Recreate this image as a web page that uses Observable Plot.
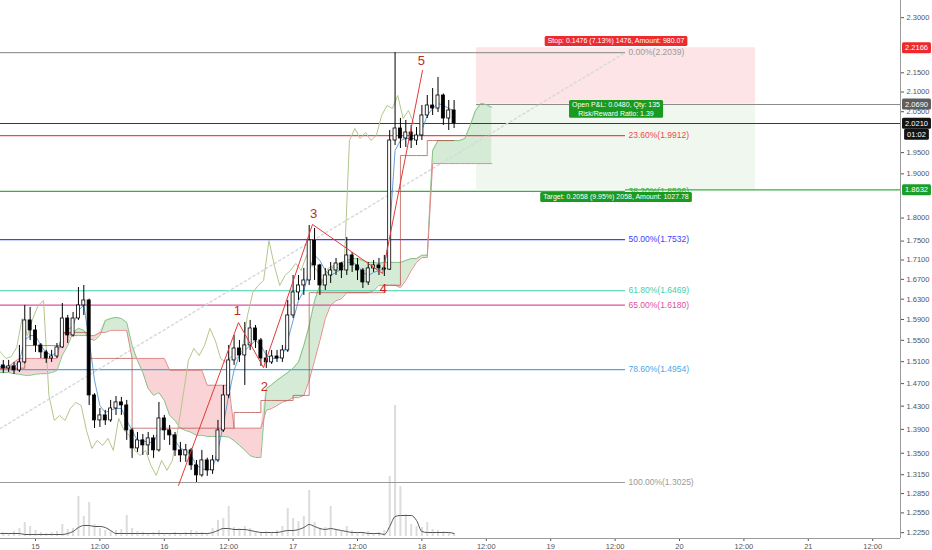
<!DOCTYPE html>
<html><head><meta charset="utf-8">
<script src="https://cdn.jsdelivr.net/npm/d3@7"></script>
<script src="https://cdn.jsdelivr.net/npm/@observablehq/plot@0.6"></script>
<style>
body{margin:0;background:#fff;}
#wrap{position:relative;width:932px;height:550px;overflow:hidden;font-family:"Liberation Sans",Arial,sans-serif;}
#wrap svg{position:absolute;left:0;top:0;}
</style></head><body><div id="wrap"></div>
<script>
// ---------- DATA ----------
const firstCandle = "2018-01-14T17:00Z"; // hourly candles from here
const opens = [1.5100,1.5031,1.4976,1.5013,1.4939,1.5086,1.5881,1.5688,1.5403,1.5272,
1.5159,1.5196,1.5365,1.5919,1.5592,1.5919,1.6175,1.6274,1.4489,1.4053,
1.4139,1.4053,1.4260,1.4366,1.4313,1.3882,1.3580,1.3714,1.3630,1.3747,
1.3547,1.4087,1.3882,1.3798,1.3547,1.3464,1.3547,1.3301,1.3139,1.3382,
1.3220,1.3382,1.3882,1.4489,1.5123,1.5346,1.5215,1.5403,1.5726,1.5497,
1.5159,1.5086,1.5196,1.5159,1.5309,1.5978,1.6434,1.6575,1.6677,1.7513,
1.6986,1.6575,1.6779,1.6882,1.7027,1.6882,1.7195,1.6986,1.6882,1.6636,
1.6924,1.6986,1.6924,1.6900,1.9791,2.0084,1.9840,1.9986,1.9791,1.9913,
2.0406,2.0657,2.0581,2.0911,2.0331,2.0531];
const highs = [1.5160,1.5123,1.5123,1.5086,1.5403,1.6175,1.6135,1.5784,1.5440,1.5309,
1.5309,1.5440,1.6214,1.5978,1.6037,1.6534,1.6575,1.6300,1.4520,1.4260,
1.4226,1.4401,1.4471,1.4454,1.4401,1.3916,1.3848,1.3814,1.3848,1.3798,
1.4366,1.4139,1.3967,1.3848,1.3680,1.3647,1.3580,1.3382,1.3547,1.3420,
1.3464,1.4053,1.4667,1.5403,1.5592,1.5497,1.5842,1.5881,1.5784,1.5535,
1.5309,1.5309,1.5309,1.5403,1.6274,1.6779,1.6779,1.6924,1.7837,1.7772,
1.7010,1.6924,1.7048,1.7132,1.7048,1.7578,1.7258,1.7132,1.6924,1.7048,
1.7090,1.7132,1.7195,2.0035,2.2039,2.0331,2.0281,2.0158,2.0109,2.0657,
2.0911,2.1090,2.1376,2.0950,2.0784,2.0784];
const lows = [1.4902,1.4884,1.4902,1.4866,1.4902,1.5060,1.5497,1.5272,1.5159,1.5068,
1.5086,1.5159,1.5346,1.5440,1.5560,1.5881,1.5978,1.4313,1.3916,1.3933,
1.3967,1.4019,1.4139,1.4139,1.3714,1.3415,1.3514,1.3464,1.3464,1.3415,
1.3520,1.3714,1.3630,1.3448,1.3349,1.3349,1.3220,1.3025,1.3110,1.3123,
1.3155,1.3349,1.3848,1.4436,1.5031,1.5086,1.4667,1.5309,1.5346,1.5013,
1.4976,1.5049,1.5086,1.5086,1.5272,1.5919,1.6274,1.6374,1.6575,1.6677,
1.6374,1.6474,1.6616,1.6779,1.6717,1.6779,1.6841,1.6677,1.6514,1.6575,
1.6841,1.6779,1.6759,1.6882,1.9671,1.9599,1.9623,1.9599,1.9671,1.9791,
2.0331,2.0406,2.0481,2.0158,2.0035,2.0084];
const closes = [1.5031,1.4976,1.5013,1.4939,1.5086,1.5881,1.5688,1.5403,1.5272,1.5159,
1.5196,1.5365,1.5919,1.5592,1.5919,1.6175,1.6274,1.4489,1.4053,1.4139,
1.4053,1.4260,1.4366,1.4313,1.3882,1.3580,1.3714,1.3630,1.3747,1.3547,
1.4087,1.3882,1.3798,1.3547,1.3464,1.3547,1.3301,1.3139,1.3382,1.3220,
1.3382,1.3882,1.4489,1.5123,1.5346,1.5215,1.5403,1.5726,1.5497,1.5159,
1.5086,1.5196,1.5159,1.5309,1.5978,1.6434,1.6575,1.6677,1.7513,1.6986,
1.6575,1.6779,1.6882,1.7027,1.6882,1.7195,1.6986,1.6882,1.6636,1.6924,
1.6986,1.6924,1.6900,1.9791,2.0084,1.9840,1.9986,1.9791,1.9913,2.0406,
2.0657,2.0581,2.0911,2.0331,2.0531,2.0210];
const volumes = [3,4,3,5,8,14,10,6,4,3,
4,5,12,7,8,40,20,34,12,8,
6,5,6,7,21,8,5,4,3,4,
6,3,3,4,3,4,6,5,4,3,
8,16,18,30,9,8,10,8,5,4,
5,4,6,10,28,18,15,20,46,14,
8,9,30,7,5,10,6,4,4,5,
3,4,6,60,131,50,22,12,10,9,
14,7,6,5,4,3];
const volumeMA = [3,3,3,3,3,2,2,2,2,2,
2,2,2,3,5,9,11,11,10,10,
9,6,3,3,3,3,3,3,3,3,
3,3,3,3,3,3,3,3,3,3,
4,6,8,8,7,7,7,6,5,4,
4,4,4,5,6,6,7,9,12,10,
8,7,8,7,6,5,4,4,4,3,
3,3,2,10,20,21,21,21,16,5,
4,4,4,4,4,3];
const tenkan = [1.501,1.501,1.501,1.499,1.512,1.550,1.559,1.559,1.540,1.527,
1.522,1.527,1.559,1.569,1.578,1.608,1.618,1.550,1.476,1.431,
1.419,1.423,1.426,1.426,1.405,1.388,1.371,1.371,1.368,1.368,
1.388,1.392,1.388,1.371,1.358,1.355,1.346,1.330,1.325,1.322,
1.325,1.355,1.397,1.449,1.494,1.522,1.531,1.540,1.550,1.540,
1.522,1.516,1.516,1.520,1.550,1.588,1.627,1.647,1.688,1.720,
1.709,1.688,1.678,1.684,1.692,1.705,1.705,1.699,1.684,1.678,
1.684,1.688,1.692,1.773,1.955,1.979,1.984,1.984,1.984,2.004,
2.041,2.058,2.071,2.066,2.058,2.053];
const kijun = [1.498,1.498,1.498,1.498,1.498,1.540,1.540,1.540,1.540,1.540,
1.540,1.540,1.565,1.565,1.565,1.565,1.565,1.516,1.516,1.516,
1.516,1.516,1.516,1.516,1.516,1.392,1.392,1.392,1.392,1.392,
1.392,1.392,1.392,1.392,1.392,1.392,1.392,1.392,1.392,1.392,
1.392,1.392,1.392,1.392,1.419,1.419,1.419,1.419,1.419,1.440,
1.440,1.440,1.440,1.440,1.440,1.449,1.449,1.449,1.643,1.643,
1.643,1.643,1.643,1.643,1.643,1.643,1.643,1.643,1.643,1.643,
1.643,1.643,1.658,1.658,1.658,1.943,1.943,1.943,1.943,1.943,
1.979,1.979,1.979,1.979,1.979,1.979];
const senkouA = [1.490,1.490,1.490,1.488,1.487,1.485,1.485,1.487,1.488,1.488,
1.490,1.494,1.522,1.540,1.565,1.573,1.569,1.553,1.550,1.559,
1.588,1.592,1.594,1.592,1.584,1.540,1.512,1.490,1.461,1.449,
1.454,1.440,1.414,1.405,1.392,1.388,1.385,1.380,1.380,1.378,
1.378,1.378,1.378,1.377,1.371,1.363,1.355,1.346,1.343,1.343,
1.461,1.468,1.476,1.483,1.490,1.498,1.509,1.540,1.578,1.627,
1.658,1.678,1.692,1.699,1.705,1.709,1.713,1.713,1.709,1.705,
1.705,1.703,1.705,1.705,1.705,1.705,1.709,1.713,1.713,1.720,
1.720,1.955,1.979,1.979,1.979,1.979,1.979,1.984,2.016,2.053,
2.071,2.068,2.061];
const senkouB = [1.498,1.498,1.501,1.509,1.516,1.516,1.516,1.516,1.516,1.516,
1.516,1.516,1.565,1.565,1.559,1.559,1.559,1.559,1.559,1.565,
1.565,1.569,1.569,1.569,1.569,1.516,1.516,1.516,1.516,1.516,
1.516,1.516,1.494,1.494,1.494,1.494,1.494,1.494,1.494,1.467,
1.467,1.467,1.467,1.467,1.392,1.392,1.392,1.392,1.392,1.392,
1.423,1.426,1.431,1.437,1.440,1.445,1.445,1.449,1.476,1.512,
1.550,1.592,1.618,1.627,1.631,1.643,1.643,1.643,1.643,1.643,
1.647,1.658,1.658,1.658,1.658,1.653,1.668,1.688,1.705,1.715,
1.715,1.924,1.924,1.924,1.924,1.924,1.924,1.924,1.924,1.924,
1.924,1.924,1.924];

const fibPct = [0, 23.6, 38.2, 50, 61.8, 65, 78.6, 100];
const fibPrice = [2.2039, 1.9912, 1.8596, 1.7532, 1.6469, 1.6180, 1.4954, 1.3025];
const fibStart = "2018-01-14T00:40Z";
const fibEnd = "2018-01-19T13:56Z";

const waveTimes = ["2018-01-16T02:39Z","2018-01-16T13:49Z","2018-01-16T18:29Z","2018-01-17T03:37Z","2018-01-17T16:40Z","2018-01-18T00:07Z"];
const wavePrices = [1.298, 1.584, 1.499, 1.786, 1.682, 2.156];
const waveLabels = ["1","2","3","4","5"];
const waveLabelTimes = ["2018-01-16T13:36Z","2018-01-16T18:40Z","2018-01-17T03:48Z","2018-01-17T16:50Z","2018-01-17T23:54Z"];
const waveLabelPrices = [1.606, 1.465, 1.810, 1.651, 2.182];

const posStart = "2018-01-18T10:10Z";
const posEnd = "2018-01-20T14:10Z";
const entryPrice = 2.0690, stopPrice = 2.2166, targetPrice = 1.8632, lastPrice = 2.0210;
const stopText = "Stop: 0.1476 (7.13%) 1476, Amount: 980.07";
const pnlText = "Open P&L: 0.0480, Qty: 135\nRisk/Reward Ratio: 1.39";
const targetText = "Target: 0.2058 (9.95%) 2058, Amount: 1027.78";
const countdownText = "01:02";

// price-axis ticks (those hidden under the coloured price labels are left out)
const yTicks = [2.3, 2.15, 2.1, 2.05, 1.95, 1.9, 1.8, 1.75, 1.71, 1.67, 1.63, 1.59, 1.55, 1.51, 1.47, 1.43, 1.39, 1.35, 1.315, 1.285, 1.255, 1.225];
const xTicks = ["2018-01-15T00:00Z","2018-01-15T12:00Z","2018-01-16T00:00Z","2018-01-16T12:00Z","2018-01-17T00:00Z","2018-01-17T12:00Z","2018-01-18T00:00Z","2018-01-18T12:00Z","2018-01-19T00:00Z","2018-01-19T12:00Z","2018-01-20T00:00Z","2018-01-20T12:00Z","2018-01-21T00:00Z","2018-01-21T12:00Z"];

// ---------- BUILD ----------
const HOUR = 3600e3;
const D = s => new Date(s);
const t0 = +D(firstCandle);
const day15 = +D("2018-01-15T00:00Z");
const xDomain = [new Date(day15 - 6.522 * HOUR), new Date(day15 + 161.18 * HOUR)];
const yDomain = [1.2163, 2.3488];

const candles = closes.map((c, i) => ({
  t: new Date(t0 + i * HOUR), o: opens[i], h: highs[i], l: lows[i], c,
  v: volumes[i], ma: volumeMA[i], tk: tenkan[i], kj: kijun[i]
}));
const cloud = senkouA.map((a, i) => ({t: new Date(t0 + i * HOUR), a, b: senkouB[i]}));
const wave = waveTimes.map((t, i) => ({t: D(t), p: wavePrices[i]}));
const waveLab = waveLabels.map((s, i) => ({t: D(waveLabelTimes[i]), p: waveLabelPrices[i], s}));
const fibColors = ["#9a9a9a","#f24848","#35b040","#4040ff","#3fd0aa","#e0509a","#4aa8ea","#9a9a9a"];
const fibs = fibPct.map((p, i) => ({p, price: fibPrice[i], label: `${p.toFixed(2)}%(${fibPrice[i].toFixed(4)})`, color: fibColors[i]}));
const ps = D(posStart), pe = D(posEnd), fs = D(fibStart), fe = D(fibEnd);
const pmid = new Date((+ps + +pe) / 2);
const xEnd = xDomain[1];
const crisp = {shapeRendering: "crispEdges"};

const fibMarks = fibs.map(f =>
  Plot.ruleY([{y: f.price, x1: fs, x2: fe}], {y: "y", x1: "x1", x2: "x2", stroke: f.color, strokeWidth: 1.2, clip: true}));
const fibLabelMarks = fibs.map(f =>
  Plot.text([f], {x: () => fe, y: "price", text: "label", textAnchor: "start", dx: 3, fill: f.color, fontSize: 8.5}));

const axisLabel = (price, text, color, dy = 0) =>
  Plot.text([{p: price, s: text}], {x: () => xEnd, y: "p", text: "s", dx: 16, dy, fill: "white", fontSize: 7.5, textAnchor: "middle", ariaDescription: "bg:" + color});

const main = Plot.plot({
  width: 932, height: 550,
  marginLeft: 0, marginRight: 32, marginTop: 0, marginBottom: 12,
  style: {background: "transparent", fontFamily: "Liberation Sans, Arial, sans-serif", fontSize: "8px", overflow: "visible"},
  x: {type: "utc", domain: xDomain},
  y: {type: "log", domain: yDomain},
  marks: [
    Plot.axisY(yTicks, {anchor: "right", tickFormat: d => d.toFixed(4), tickSize: 3, tickPadding: 3, fontSize: 7.5, color: "#555", label: null}),
    Plot.axisX(xTicks.map(D), {anchor: "bottom", tickFormat: d => d.getUTCHours() === 0 ? String(d.getUTCDate()) : "12:00", tickSize: 3, tickPadding: 2, fontSize: 7.5, color: "#555", label: null}),
    // position box
    Plot.rect([{x1: ps, x2: pe, y1: entryPrice, y2: stopPrice}], {x1: "x1", x2: "x2", y1: "y1", y2: "y2", fill: "#fde4e6"}),
    Plot.rect([{x1: ps, x2: pe, y1: targetPrice, y2: entryPrice}], {x1: "x1", x2: "x2", y1: "y1", y2: "y2", fill: "#eff7ef"}),
    // ichimoku cloud
    Plot.areaY(cloud, {x: "t", y1: "b", y2: d => Math.max(d.a, d.b), fill: "#d5ebd6", clip: true}),
    Plot.areaY(cloud, {x: "t", y1: "a", y2: d => Math.max(d.a, d.b), fill: "#f9d3d5", clip: true}),
    // horizontal lines
    ...fibMarks,
    Plot.ruleY([{y: targetPrice, x1: fe, x2: xEnd}], {y: "y", x1: "x1", x2: "x2", stroke: "#35b040", strokeWidth: 1.2}),
    Plot.ruleY([{y: entryPrice, x1: ps, x2: xEnd}], {y: "y", x1: "x1", x2: "x2", stroke: "#8c8c8c", strokeWidth: 1, ...crisp}),
    Plot.ruleY([lastPrice], {stroke: "#3a3a3a", strokeWidth: 1, ...crisp}),
    Plot.line([{t: fs, p: fibPrice[7]}, {t: fe, p: fibPrice[0]}], {x: "t", y: "p", stroke: "#d9d9d9", strokeDasharray: "2,3", clip: true}),
    // ichimoku lines
    Plot.line(cloud, {x: "t", y: "a", stroke: "#84c285", strokeWidth: 1, clip: true}),
    Plot.line(cloud, {x: "t", y: "b", stroke: "#e28a8a", strokeWidth: 1, clip: true}),
    Plot.line(candles, {x: d => new Date(+d.t - 7.5 * HOUR), y: "c", stroke: "#b3c78c", strokeWidth: 1, clip: true}),
    Plot.line(candles, {x: "t", y: "kj", stroke: "#b5473f", strokeOpacity: 0.7, strokeWidth: 1, curve: "step-after", clip: true}),
    Plot.line(candles, {x: "t", y: "tk", stroke: "#4b8fd6", strokeOpacity: 0.85, strokeWidth: 1, clip: true}),
    // candles
    Plot.ruleX(candles, {x: "t", y1: "l", y2: "h", stroke: "#000", strokeWidth: 1, clip: true}),
    Plot.rect(candles, {x1: d => new Date(+d.t - 17 * 60e3), x2: d => new Date(+d.t + 17 * 60e3), y1: "o", y2: "c",
      fill: d => d.c >= d.o ? "#ffffff" : "#000000", stroke: "#000", strokeWidth: 0.8, clip: true}),
    // Elliott waves
    Plot.line(wave, {x: "t", y: "p", stroke: "#e53935", strokeWidth: 1}),
    Plot.text(waveLab, {x: "t", y: "p", text: "s", fill: "#c62828", fontSize: 13}),
    // labels
    ...fibLabelMarks,
    Plot.text([{p: stopPrice, s: stopText}], {x: () => pmid, y: "p", text: "s", dy: -7, fill: "white", fontSize: 7, ariaDescription: "bg:#ee2a2f"}),
    Plot.text([{p: entryPrice, s: pnlText}], {x: () => pmid, y: "p", text: "s", dy: 4.5, lineHeight: 1.25, fill: "white", fontSize: 7, ariaDescription: "bg:#1a9a1f"}),
    Plot.text([{p: targetPrice, s: targetText}], {x: () => pmid, y: "p", text: "s", dy: 7, fill: "white", fontSize: 7, ariaDescription: "bg:#1a9a1f"}),
    // frame lines
    Plot.ruleX([xEnd], {stroke: "#9a9a9a", ...crisp}),
    Plot.ruleY([yDomain[0]], {stroke: "#9a9a9a", ...crisp}),
    // price-axis labels
    axisLabel(stopPrice, stopPrice.toFixed(4), "#f0282d"),
    axisLabel(entryPrice, entryPrice.toFixed(4), "#5d5d5d"),
    axisLabel(lastPrice, lastPrice.toFixed(4), "#131313"),
    axisLabel(lastPrice, countdownText, "#131313", 11),
    axisLabel(targetPrice, targetPrice.toFixed(4), "#1d9e2c")
  ]
});

const vol = Plot.plot({
  width: 932, height: 550,
  marginLeft: 0, marginRight: 32, marginTop: 380, marginBottom: 14,
  style: {background: "transparent"},
  x: {type: "utc", domain: xDomain, axis: null},
  y: {domain: [0, 156], axis: null},
  marks: [
    Plot.ruleX(candles, {x: "t", y1: 0, y2: "v", stroke: "#dcdcdc", strokeWidth: 2, clip: true}),
    Plot.line(candles, {x: "t", y: "ma", stroke: "#555", strokeWidth: 1, curve: "monotone-x", clip: true})
  ]
});

const wrap = document.getElementById("wrap");
wrap.appendChild(vol);
wrap.appendChild(main);

// background boxes behind label texts
main.querySelectorAll('g[aria-description^="bg:"]').forEach(g => {
  const color = g.getAttribute("aria-description").slice(3);
  g.querySelectorAll("text").forEach(t => {
    const b = t.getBBox();
    const r = document.createElementNS("http://www.w3.org/2000/svg", "rect");
    r.setAttribute("x", b.x - 3);
    r.setAttribute("y", b.y - 1);
    r.setAttribute("width", b.width + 6);
    r.setAttribute("height", b.height + 2);
    r.setAttribute("rx", 1.5);
    r.setAttribute("fill", color);
    r.setAttribute("stroke", "none");
    if (t.getAttribute("transform")) r.setAttribute("transform", t.getAttribute("transform"));
    t.parentNode.insertBefore(r, t);
  });
});
</script>
</body></html>
